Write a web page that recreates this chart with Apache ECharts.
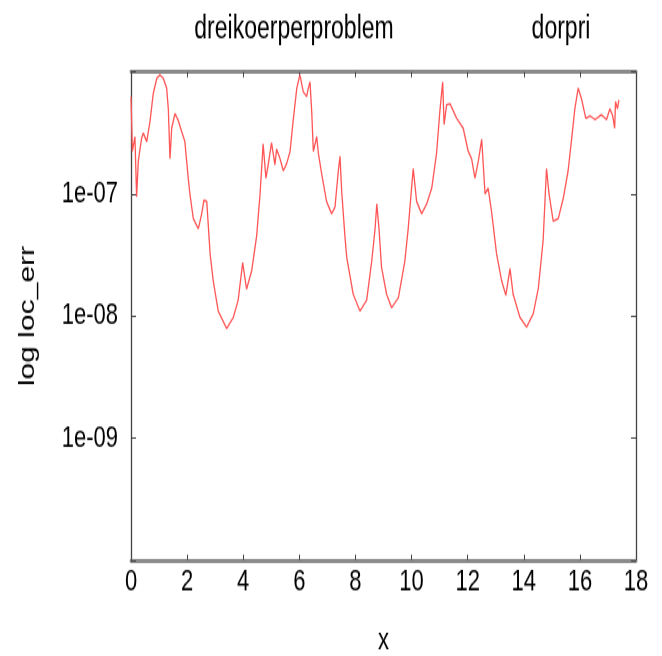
<!DOCTYPE html>
<html>
<head>
<meta charset="utf-8">
<script src="https://cdn.jsdelivr.net/npm/echarts@6/dist/echarts.min.js"></script>
<style>
  html, body { margin: 0; padding: 0; background: #fff; width: 662px; height: 656px; overflow: hidden; }
  #wrap { width: 662px; height: 656px; position: relative; overflow: hidden; }
  /* plot is laid out at 662x480 and stretched to the 656px tall page */
  #chart { position: absolute; left: 0; top: 0; width: 662px; height: 480px; transform: scaleY(1.36667); transform-origin: 0 0; }
</style>
</head>
<body>
<div id="wrap"><div id="chart"></div></div>
<script>
// step positions (x) and local error estimates of the dorpri integrator
const xs = [
  0.00, 0.05, 0.09, 0.14, 0.20, 0.26, 0.38, 0.44, 0.56, 0.68,
  0.79, 0.92, 1.03, 1.15, 1.27, 1.33, 1.39, 1.45, 1.57, 1.69,
  1.81, 1.92, 2.04, 2.10, 2.22, 2.40, 2.52, 2.60, 2.70, 2.82,
  2.93, 3.11, 3.41, 3.65, 3.82, 3.98, 4.12, 4.30, 4.48, 4.60,
  4.71, 4.81, 4.89, 5.01, 5.13, 5.19, 5.31, 5.43, 5.55, 5.67,
  5.78, 5.91, 6.02, 6.14, 6.26, 6.32, 6.38, 6.44, 6.50, 6.62,
  6.68, 6.80, 6.97, 7.15, 7.27, 7.39, 7.45, 7.51, 7.63, 7.69,
  7.92, 8.16, 8.40, 8.58, 8.70, 8.76, 8.84, 8.93, 9.11, 9.29,
  9.53, 9.76, 9.88, 10.00, 10.06, 10.18, 10.36, 10.54, 10.72, 10.89,
  11.01, 11.11, 11.16, 11.25, 11.37, 11.61, 11.84, 12.02, 12.14, 12.26,
  12.38, 12.50, 12.62, 12.73, 12.85, 13.03, 13.21, 13.36, 13.51, 13.62,
  13.86, 14.10, 14.34, 14.52, 14.69, 14.81, 14.90, 15.05, 15.23, 15.41,
  15.58, 15.71, 15.82, 15.94, 16.06, 16.21, 16.36, 16.54, 16.77, 16.95,
  17.07, 17.17, 17.24, 17.27, 17.34, 17.39
];
const locErr = [
  6.3e-7, 2.24e-7, 2.14e-7, 2.95e-7, 9.5e-8, 1.86e-7, 2.88e-7, 3.16e-7, 2.69e-7, 3.98e-7,
  6.6e-7, 8.9e-7, 9.5e-7, 8.9e-7, 7.4e-7, 5.0e-7, 1.95e-7, 3.47e-7, 4.57e-7, 3.98e-7,
  3.24e-7, 2.69e-7, 1.35e-7, 1.0e-7, 6.3e-8, 5.2e-8, 6.9e-8, 8.9e-8, 8.7e-8, 3.24e-8,
  1.95e-8, 1.10e-8, 7.9e-9, 9.8e-9, 1.35e-8, 2.75e-8, 1.66e-8, 2.34e-8, 4.57e-8, 1.0e-7,
  2.57e-7, 1.35e-7, 1.74e-7, 2.63e-7, 1.74e-7, 2.34e-7, 1.95e-7, 1.55e-7, 1.78e-7, 2.24e-7,
  3.98e-7, 7.4e-7, 9.5e-7, 6.9e-7, 6.3e-7, 7.4e-7, 8.3e-7, 4.8e-7, 2.24e-7, 2.95e-7,
  2.14e-7, 1.45e-7, 8.7e-8, 6.9e-8, 7.8e-8, 1.55e-7, 2.04e-7, 1.05e-7, 4.37e-8, 3.02e-8,
  1.51e-8, 1.10e-8, 1.35e-8, 2.82e-8, 5.2e-8, 8.3e-8, 5.2e-8, 2.51e-8, 1.51e-8, 1.17e-8,
  1.41e-8, 2.82e-8, 5.2e-8, 1.12e-7, 1.62e-7, 8.7e-8, 6.9e-8, 8.3e-8, 1.12e-7, 2.14e-7,
  4.8e-7, 8.3e-7, 3.72e-7, 5.4e-7, 5.5e-7, 4.17e-7, 3.47e-7, 2.24e-7, 1.95e-7, 1.35e-7,
  1.86e-7, 2.82e-7, 1.0e-7, 1.12e-7, 7.2e-8, 3.24e-8, 1.95e-8, 1.48e-8, 2.45e-8, 1.51e-8,
  9.8e-9, 8.1e-9, 1.05e-8, 1.70e-8, 4.17e-8, 1.62e-7, 1.0e-7, 6.0e-8, 6.3e-8, 9.3e-8,
  1.55e-7, 2.88e-7, 5.0e-7, 7.4e-7, 6.0e-7, 4.17e-7, 4.37e-7, 4.07e-7, 4.47e-7, 4.07e-7,
  5.0e-7, 4.37e-7, 3.47e-7, 5.75e-7, 5.0e-7, 5.9e-7
];
const titleText = 'dreikoerperproblem';
const seriesName = 'dorpri';
const xRange = [0, 18];
const yRange = [1e-10, 1e-6];
const labelledExponents = [-7, -8, -9];

const points = xs.map((x, i) => [x, locErr[i]]);

const font = 'Liberation Sans, Arial, sans-serif';

function expLabel(v) {
  const e = Math.round(Math.log10(v));
  if (labelledExponents.indexOf(e) < 0) return '';
  const s = String(Math.abs(e)).padStart(2, '0');
  return '1e' + (e < 0 ? '-' : '+') + s;
}

const frameH = { show: true, onZero: false, lineStyle: { color: '#8a8a8a', width: 2.8 } };
const frameV = { show: true, onZero: false, lineStyle: { color: '#444', width: 1.3 } };
const tickStyle = { color: '#444', width: 1 };

const chart = echarts.init(document.getElementById('chart'));
chart.setOption({
  animation: false,
  backgroundColor: '#ffffff',
  title: [
    { text: titleText, left: 289, top: 5, textAlign: 'center',
      textStyle: { fontFamily: font, fontSize: 23, fontWeight: 'normal', color: '#000' } },
    { text: seriesName, left: 556, top: 5, textAlign: 'center',
      textStyle: { fontFamily: font, fontSize: 23, fontWeight: 'normal', color: '#000' } }
  ],
  grid: { left: 131, right: 26, top: 52.7, bottom: 70.2, containLabel: false, outerBoundsMode: 'none' },
  xAxis: [
    {
      type: 'value', min: xRange[0], max: xRange[1], interval: 2, position: 'bottom',
      name: 'x', nameLocation: 'middle', nameGap: 48,
      nameTextStyle: { fontFamily: font, fontSize: 22, color: '#000' },
      axisLine: frameH,
      axisTick: { show: true, inside: true, length: 4, lineStyle: tickStyle },
      axisLabel: { fontFamily: font, fontSize: 22, color: '#000', margin: 5, showMaxLabel: true, showMinLabel: true },
      splitLine: { show: false }
    },
    {
      type: 'value', min: xRange[0], max: xRange[1], interval: 2, position: 'top',
      axisLine: frameH,
      axisTick: { show: true, inside: true, length: 4, lineStyle: tickStyle },
      axisLabel: { show: false },
      splitLine: { show: false }
    }
  ],
  yAxis: [
    {
      type: 'log', logBase: 10, min: yRange[0], max: yRange[1], position: 'left',
      name: 'log loc_err', nameLocation: 'middle', nameGap: 92, nameRotate: 90,
      nameTextStyle: { fontFamily: font, fontSize: 22, color: '#000' },
      axisLine: frameV,
      axisTick: { show: true, inside: true, length: 5, lineStyle: tickStyle },
      axisLabel: { fontFamily: font, fontSize: 22, color: '#000', margin: 13, formatter: expLabel },
      splitLine: { show: false }
    },
    {
      type: 'log', logBase: 10, min: yRange[0], max: yRange[1], position: 'right',
      axisLine: frameV,
      axisTick: { show: true, inside: true, length: 5, lineStyle: tickStyle },
      axisLabel: { show: false },
      splitLine: { show: false }
    }
  ],
  series: [
    {
      name: seriesName, type: 'line', xAxisIndex: 0, yAxisIndex: 0,
      data: points, showSymbol: false, symbol: 'none',
      lineStyle: { color: '#ff5555', width: 1.3 }
    }
  ]
});
</script>
</body>
</html>
